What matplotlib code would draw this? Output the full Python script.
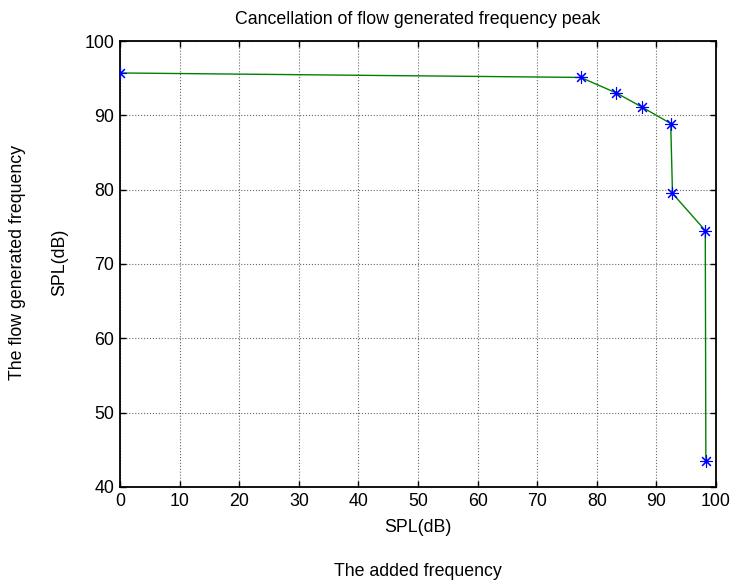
import matplotlib.pyplot as plt

plt.rcParams['font.family'] = ['Liberation Sans', 'DejaVu Sans']

# added tone level vs. remaining flow peak level
added_spl = [0.0, 77.3, 83.3, 87.6, 92.4, 92.7, 98.2, 98.3]
flow_spl = [95.7, 95.1, 93.0, 91.1, 88.9, 79.5, 74.5, 43.5]

x_ticks = list(range(0, 101, 10))
y_ticks = list(range(40, 101, 10))

fs = 12.8

fig = plt.figure(figsize=(7.31, 5.82), dpi=100)
ax = fig.add_axes([120 / 731, 1 - 487 / 582, 596 / 731, 446 / 582])

ax.plot(added_spl, flow_spl, color=(0, 0.5, 0), linewidth=1.0, zorder=3)
ax.plot(added_spl, flow_spl, linestyle='none', marker=(8, 2, 0), markersize=9,
        markeredgecolor='blue', markeredgewidth=0.8, zorder=4)

ax.set_xlim(0, 100)
ax.set_ylim(40, 100)
ax.set_xticks(x_ticks)
ax.set_yticks(y_ticks)
ax.grid(True, color='black', linestyle=':', linewidth=0.8, alpha=0.6)
ax.tick_params(direction='in', length=4, width=1, top=True, right=True,
               labelsize=fs, pad=4)
for spine in ax.spines.values():
    spine.set_linewidth(1.3)

fig.text(418 / 731, 1 - 20 / 582, 'Cancellation of flow generated frequency peak',
         ha='center', va='center', fontsize=fs)
fig.text(418 / 731, 1 - 527 / 582, 'SPL(dB)', ha='center', va='center', fontsize=fs)
fig.text(418 / 731, 1 - 571 / 582, 'The added frequency', ha='center', va='center',
         fontsize=fs)
fig.text(60 / 731, 1 - 262 / 582, 'SPL(dB)', ha='center', va='center', rotation=90,
         fontsize=fs)
fig.text(18 / 731, 1 - 262 / 582, 'The flow generated frequency', ha='center',
         va='center', rotation=90, fontsize=fs)

fig.savefig('out.png', dpi=100)
